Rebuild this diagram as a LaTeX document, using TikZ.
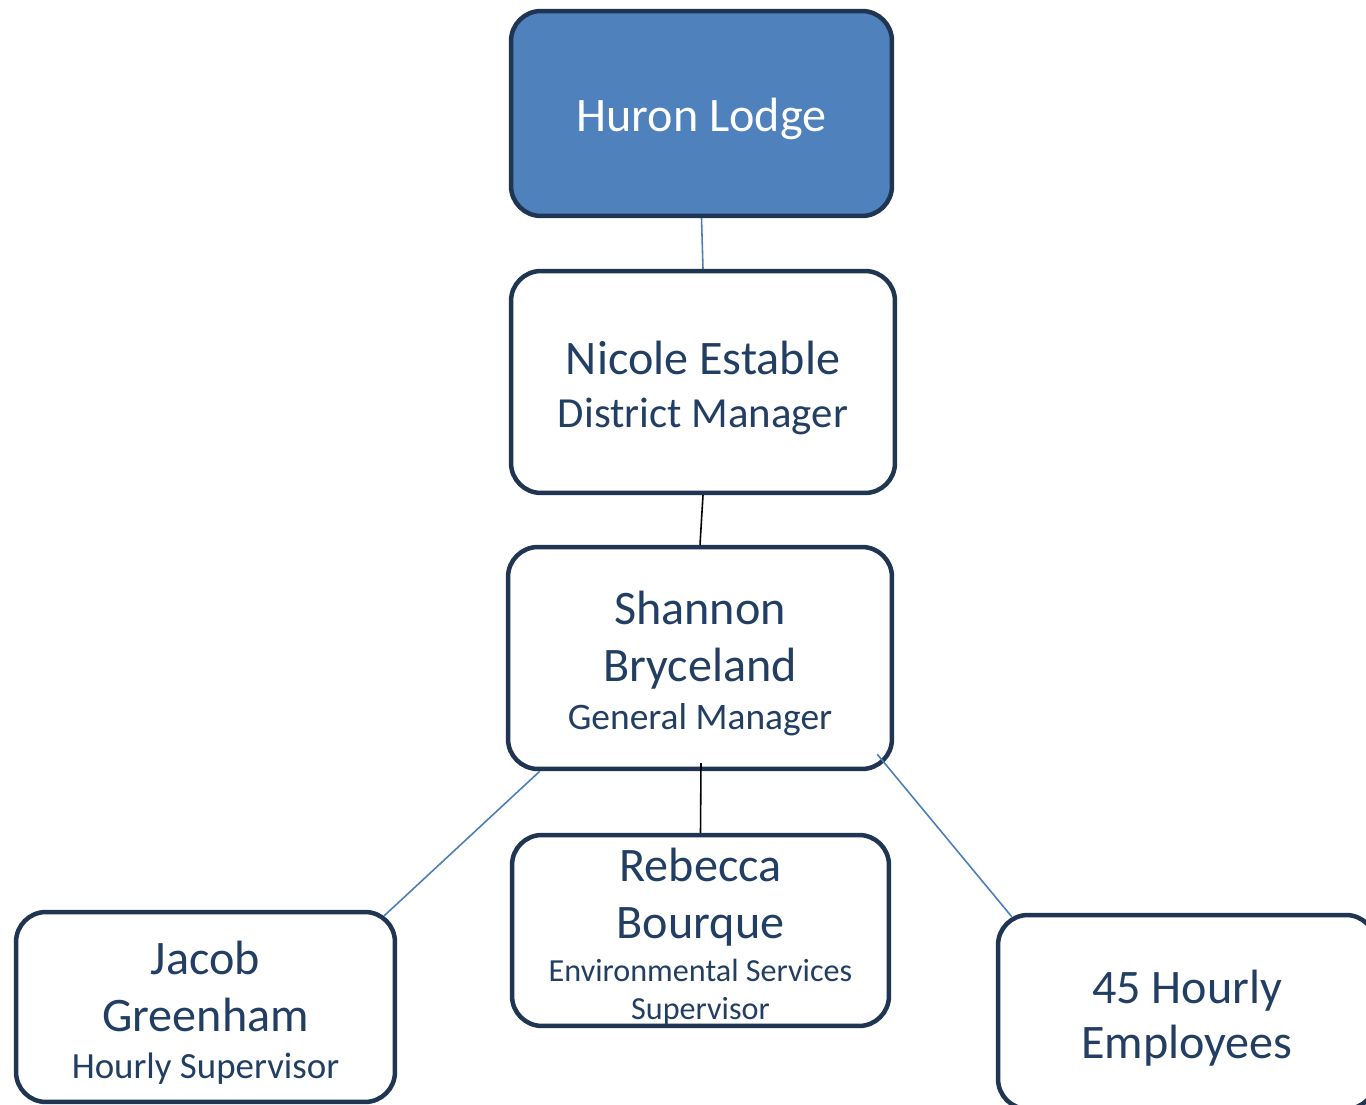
\documentclass[tikz,border=0pt]{standalone}
\usepackage{fontspec}
\setmainfont{Carlito}
\usetikzlibrary{calc,positioning}
\definecolor{Navy}{HTML}{1F3552}
\definecolor{NavyText}{HTML}{223E63}
\definecolor{Lodge}{HTML}{4F81BD}
\definecolor{Link}{HTML}{4A7EBB}
\tikzset{
  unit/.style={
    rounded corners=0.6cm, draw=Navy, line width=0.09cm, fill=white,
    text=NavyText, align=center, inner sep=0pt,
    font=\fontsize{27.4}{32.4}\selectfont
  },
  headunit/.style={unit, fill=Lodge, text=white},
  blueline/.style={draw=Link, line width=0.9pt},
  blackline/.style={draw=black, line width=0.9pt}
}
\newcommand{\rolesize}[1]{\fontsize{#1}{#1}\selectfont}
\newcommand{\topgap}{\rule{0pt}{25.5pt}}

\begin{document}
\begin{tikzpicture}[x=0.02cm,y=0.02cm]
    \useasboundingbox (0,0) rectangle (1366,1105);
    \clip (0,0) rectangle (1366,1105);
    \node[headunit,minimum width=7.62cm,minimum height=4.1cm] (lodge) at (701.5,991.5) {\topgap Huron Lodge};
    \node[unit,minimum width=7.68cm,minimum height=4.44cm] (nicole) at (703,723)
      {\topgap Nicole Estable\\[-2.2pt]{\rolesize{24.4}District Manager}};
    \node[unit,minimum width=7.68cm,minimum height=4.44cm] (shannon) at (700,447)
      {\topgap Shannon\\Bryceland\\[-5.1pt]{\rolesize{21.3}General Manager}};
    \node[unit,minimum width=7.54cm,minimum height=3.82cm] (rebecca) at (700.5,174.5)
      {\topgap Rebecca\\Bourque\\[-7.9pt]{\rolesize{18.3}Environmental Services}\\[-10.8pt]{\rolesize{18.3}Supervisor}};
    \node[unit,minimum width=7.58cm,minimum height=3.8cm] (jacob) at (205.5,98)
      {\topgap Jacob\\Greenham\\[-5.7pt]{\rolesize{21}Hourly Supervisor}};
    \node[unit,minimum width=7.56cm,minimum height=3.88cm] (hourly) at (1187,93)
      {\topgap 45 Hourly\\[-1.1pt]Employees};
    \draw[blueline] (lodge.south) -- (nicole.north);
    \draw[blackline] (nicole.south) -- (shannon.north);
    \draw[blackline] ($(shannon.south)+(1,8)$) -- (rebecca.north);
    \draw[blueline] ($(shannon.south west)+(34,0)$) -- ($(jacob.north east)+(-13,-6)$);
    \draw[blueline] ($(shannon.south east)+(-17,17)$) -- ($(hourly.north west)+(16,-4)$);
\end{tikzpicture}
\end{document}
